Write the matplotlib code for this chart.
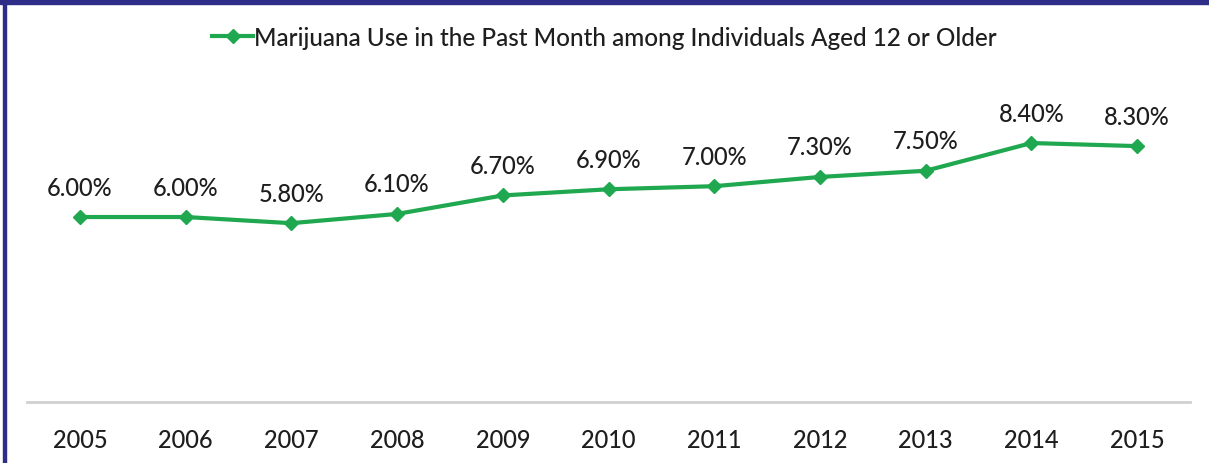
import matplotlib
matplotlib.use("Agg")
import matplotlib.pyplot as plt
from matplotlib.patches import Rectangle

years = ["2005", "2006", "2007", "2008", "2009", "2010", "2011", "2012", "2013", "2014", "2015"]
values = [6.0, 6.0, 5.8, 6.1, 6.7, 6.9, 7.0, 7.3, 7.5, 8.4, 8.3]
series_name = "Marijuana Use in the Past Month among Individuals Aged 12 or Older"

plt.rcParams['font.family'] = ['Lato', 'DejaVu Sans']
W, H = 1209, 464
fig = plt.figure(figsize=(W / 100, H / 100), dpi=100)
fig.patch.set_facecolor('white')

green = '#1fa84f'
text_col = '#1e1e1e'

left = 27 / W
right = 1190 / W
bottom = (H - 403) / H
top = (H - 60) / H
ax = fig.add_axes([left, bottom, right - left, top - bottom])
x = list(range(len(years)))
line, = ax.plot(x, values, color=green, lw=3, marker='D', ms=7.5, label=series_name)
ax.set_xlim(-0.5, len(years) - 0.5)
ppu = 30.83
ax.set_ylim(0, (403 - 60) / ppu)
ax.set_yticks([])
ax.set_xticks(x)
ax.set_xticklabels(years, fontsize=17, color=text_col, fontweight='medium')
ax.tick_params(axis='x', length=0, pad=19)
for s in ['top', 'right', 'left']:
    ax.spines[s].set_visible(False)
ax.spines['bottom'].set_color('#d0d0d0')
ax.spines['bottom'].set_linewidth(2)

for xi, v in zip(x, values):
    ax.annotate(f"{v:.2f}%", (xi, v), xytext=(0, 30), textcoords='offset pixels',
                ha='center', va='center', fontsize=17, color=text_col, fontweight='medium')

fig.legend(handles=[line], loc='center', bbox_to_anchor=(0.5, 1 - 38 / H),
           frameon=False, prop={'size': 17.5, 'weight': 'medium'},
           handlelength=1.7, handletextpad=0.05, labelcolor=text_col)

# border: navy top band and left line
navy = '#2e2d88'
fig.patches.append(Rectangle((0, 1 - 5 / H), 1, 5 / H, transform=fig.transFigure,
                             color=navy, zorder=10))
fig.patches.append(Rectangle((3 / W, 0), 3 / W, 1, transform=fig.transFigure,
                             color=navy, zorder=10))

fig.savefig('out.png', dpi=100)
